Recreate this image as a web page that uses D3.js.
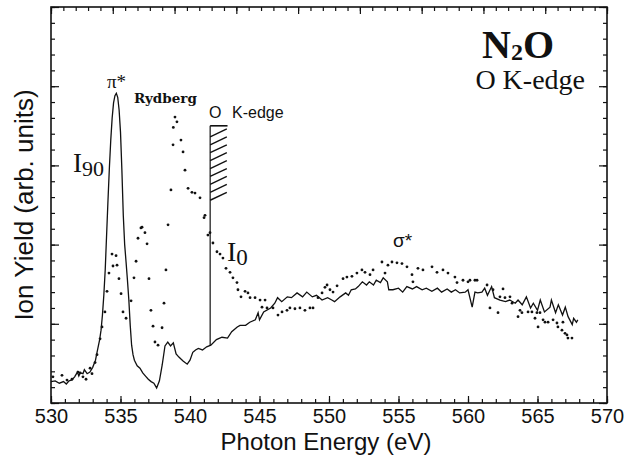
<!DOCTYPE html>
<html lang="en">
<head>
    <meta charset="UTF-8">
    <title>N2O O K-edge ion yield</title>
    <script src="https://d3js.org/d3.v7.min.js"></script>
    <style>
        body { margin: 0; background: #fff; }
        svg { display: block; font-family: "Liberation Sans", Arial, sans-serif; }
        .serif { font-family: "Liberation Serif", "Times New Roman", serif; }
    </style>
</head>
<body>
    <div id="chart"></div>
    <script>
        // I90 spectrum (solid line): [photon energy eV, ion yield arb. units]
        const i90 = [
            [530.0,0.27],[530.3,0.28],[530.6,0.25],[530.9,0.27],[531.1,0.24],[531.3,0.28],[531.5,0.29],[531.7,0.33],
            [531.9,0.39],[532.0,0.34],[532.1,0.38],[532.3,0.37],[532.4,0.42],[532.6,0.37],[532.8,0.39],[533.0,0.45],
            [533.2,0.54],[533.3,0.63],[533.5,0.80],[533.6,0.92],[533.7,1.11],[533.8,1.36],[533.9,1.68],[534.0,2.12],
            [534.1,2.56],[534.2,2.97],[534.3,3.32],[534.4,3.60],[534.5,3.79],[534.6,3.88],[534.7,3.91],[534.8,3.86],
            [534.9,3.70],[535.0,3.42],[535.1,2.94],[535.2,2.37],[535.3,2.00],[535.4,1.78],[535.5,1.55],[535.6,1.30],
            [535.7,0.98],[535.8,0.73],[535.9,0.61],[536.0,0.54],[536.2,0.47],[536.4,0.44],[536.6,0.38],[536.8,0.34],
            [537.0,0.30],[537.2,0.27],[537.4,0.25],[537.6,0.19],[537.8,0.28],[538.0,0.48],[538.2,0.72],[538.4,0.77],
            [538.6,0.72],[538.8,0.76],[539.0,0.62],[539.2,0.58],[539.5,0.53],[539.8,0.49],[540.0,0.54],[540.2,0.64],
            [540.4,0.67],[540.6,0.69],[540.9,0.67],[541.2,0.71],[541.5,0.73],[541.9,0.80],[542.3,0.83],[542.7,0.82],
            [543.0,0.90],[543.4,0.96],[543.6,0.98],[544.0,0.98],[544.3,1.02],[544.7,1.05],[544.9,1.14],[545.0,1.05],
            [545.3,1.15],[545.8,1.20],[546.1,1.26],[546.3,1.33],[546.6,1.28],[547.0,1.34],[547.3,1.33],[547.7,1.39],
            [548.1,1.34],[548.4,1.40],[548.8,1.34],[549.1,1.36],[549.5,1.30],[549.9,1.33],[550.2,1.30],[550.4,1.28],
            [550.8,1.34],[551.2,1.39],[551.4,1.36],[551.6,1.43],[551.9,1.44],[552.1,1.47],[552.4,1.53],[552.7,1.49],
            [552.9,1.53],[553.2,1.49],[553.4,1.55],[553.7,1.52],[553.9,1.58],[554.2,1.53],[554.3,1.43],[554.6,1.43],
            [555.0,1.45],[555.3,1.40],[555.6,1.47],[556.0,1.44],[556.3,1.47],[556.7,1.43],[557.0,1.45],[557.4,1.41],
            [557.8,1.45],[558.1,1.40],[558.5,1.44],[558.8,1.40],[559.1,1.43],[559.4,1.39],[559.8,1.40],[560.0,1.43],
            [560.3,1.21],[560.5,1.40],[560.7,1.39],[561.0,1.40],[561.2,1.45],[561.4,1.36],[561.7,1.47],[561.9,1.33],
            [562.3,1.30],[562.7,1.28],[563.0,1.30],[563.4,1.26],[563.6,1.30],[563.9,1.24],[564.2,1.34],[564.5,1.20],
            [564.7,1.26],[565.0,1.17],[565.2,1.30],[565.5,1.15],[565.9,1.21],[566.0,1.30],[566.3,1.14],[566.5,1.24],
            [566.8,1.11],[567.0,1.21],[567.2,1.09],[567.5,0.99],[567.6,1.07],[567.8,1.02],[567.9,1.05]
        ];

        // I0 spectrum (dots)
        const i0 = [
            [530.14,0.33],[530.79,0.35],[531.15,0.29],[531.51,0.30],[531.94,0.39],[532.09,0.38],[532.30,0.33],[532.52,0.30],
            [532.81,0.44],[532.95,0.37],[533.17,0.51],[533.31,0.61],[533.53,0.81],[533.67,0.96],[533.88,1.15],[534.03,1.41],
            [534.17,1.64],[534.39,1.88],[534.46,1.73],[534.68,1.86],[534.75,1.74],[534.89,1.57],[535.04,1.38],[535.18,1.15],
            [535.40,1.07],[535.76,1.29],[535.97,1.58],[536.12,1.79],[536.26,2.08],[536.47,2.21],[536.55,2.22],[536.76,2.15],
            [536.91,2.01],[537.05,1.57],[537.19,1.17],[537.34,0.97],[537.48,0.77],[537.70,0.73],[537.99,0.95],[538.13,1.26],
            [538.27,1.68],[538.42,2.25],[538.63,2.69],[538.78,3.26],[538.80,3.48],[538.92,3.61],[539.06,3.55],[539.35,3.32],
            [539.50,3.17],[539.64,2.94],[539.86,2.71],[540.14,2.66],[540.36,2.65],[540.72,2.59],[541.01,2.34],[541.08,2.37],
            [541.29,2.12],[541.44,2.15],[541.65,2.02],[541.94,1.91],[542.16,1.88],[542.37,1.83],[542.59,1.70],[542.88,1.65],
            [543.09,1.58],[543.38,1.52],[543.45,1.43],[543.67,1.34],[543.96,1.41],[544.17,1.39],[544.32,1.33],[544.68,1.33],
            [545.04,1.30],[545.18,1.21],[545.40,1.30],[545.54,1.20],[545.97,1.20],[546.33,1.11],[546.62,1.15],[546.98,1.17],
            [547.19,1.20],[547.55,1.19],[547.91,1.20],[548.27,1.17],[548.63,1.20],[548.85,1.20],[549.21,1.33],[549.50,1.39],
            [549.71,1.46],[549.86,1.49],[550.07,1.43],[550.29,1.40],[550.58,1.48],[551.01,1.57],[551.29,1.59],[551.65,1.60],
            [552.01,1.64],[552.37,1.68],[552.59,1.65],[552.95,1.62],[553.17,1.68],[553.81,1.78],[554.03,1.64],[554.24,1.74],
            [554.53,1.78],[554.89,1.77],[555.25,1.76],[555.61,1.72],[555.97,1.62],[556.04,1.53],[556.40,1.70],[556.76,1.68],
            [557.41,1.72],[557.77,1.65],[558.20,1.68],[558.56,1.64],[559.06,1.59],[559.21,1.52],[559.64,1.55],[560.00,1.53],
            [560.14,1.55],[560.50,1.55],[560.65,1.55],[561.37,1.49],[561.58,1.20],[561.80,1.43],[562.16,1.14],[562.30,1.34],
            [562.52,1.44],[562.66,1.33],[563.02,1.34],[563.17,1.26],[563.60,1.09],[563.74,1.17],[563.88,1.14],[564.32,1.15],
            [564.60,1.15],[564.82,1.07],[564.96,1.14],[565.04,0.96],[565.18,1.14],[565.40,1.05],[565.54,1.02],[565.76,1.02],
            [566.12,1.05],[566.40,1.01],[566.47,0.96],[566.76,0.92],[566.83,1.02],[566.98,0.88],[567.12,0.86],[567.19,0.82],
            [567.48,0.82]
        ];

        const xMajor = d3.range(530, 571, 5);
        const xMinor = d3.range(530, 571, 1);
        const yMajor = d3.range(0, 5.01, 1);
        const yMinor = d3.range(0, 5.01, 0.2);

        // O K-edge marker: edge energy, bottom/top of the line, hatch levels
        const edgeEnergy = 541.45;
        const edgeLow = 0.72;
        const edgeTop = 3.50;
        const hatchLevels = d3.range(2.56, 3.40, 0.1);

        const width = 637, height = 457;
        const margin = { left: 51, right: 30, top: 7, bottom: 54 };

        const svg = d3.select("#chart").append("svg")
            .attr("width", width)
            .attr("height", height);

        const x = d3.scaleLinear().domain([530, 570]).range([margin.left, width - margin.right]);
        const y = d3.scaleLinear().domain([0, 5]).range([height - margin.bottom, margin.top]);
        // top axis carries its own finer tick spacing
        const xTop = d3.scaleLinear().domain([0, 45]).range(x.range());

        const plotB = height - margin.bottom, plotR = width - margin.right;

        // axes (ticks inward)
        const tickStyle = g => {
            g.select(".domain").remove();
            g.selectAll("line").attr("stroke", "#111").attr("stroke-width", 1.2);
        };

        svg.append("g").attr("transform", `translate(0,${plotB})`)
            .call(d3.axisBottom(x).tickValues(xMinor).tickSize(-4).tickFormat(""))
            .call(tickStyle);
        svg.append("g").attr("transform", `translate(0,${plotB})`)
            .call(d3.axisBottom(x).tickValues(xMajor).tickSize(-7).tickPadding(6).tickFormat(d3.format("d")))
            .call(tickStyle)
            .call(g => g.selectAll("text").attr("font-size", 20).attr("fill", "#111")
                .attr("font-family", "'Liberation Sans', Arial, sans-serif"));

        svg.append("g").attr("transform", `translate(0,${margin.top})`)
            .call(d3.axisTop(xTop).tickValues(d3.range(0, 46, 1)).tickSize(-4).tickFormat(""))
            .call(tickStyle);
        svg.append("g").attr("transform", `translate(0,${margin.top})`)
            .call(d3.axisTop(xTop).tickValues(d3.range(0, 46, 5)).tickSize(-7).tickFormat(""))
            .call(tickStyle);

        svg.append("g").attr("transform", `translate(${margin.left},0)`)
            .call(d3.axisLeft(y).tickValues(yMinor).tickSize(-4).tickFormat(""))
            .call(tickStyle);
        svg.append("g").attr("transform", `translate(${margin.left},0)`)
            .call(d3.axisLeft(y).tickValues(yMajor).tickSize(-8).tickFormat(""))
            .call(tickStyle);
        svg.append("g").attr("transform", `translate(${plotR},0)`)
            .call(d3.axisRight(y).tickValues(yMinor).tickSize(-4).tickFormat(""))
            .call(tickStyle);
        svg.append("g").attr("transform", `translate(${plotR},0)`)
            .call(d3.axisRight(y).tickValues(yMajor).tickSize(-8).tickFormat(""))
            .call(tickStyle);

        svg.append("rect")
            .attr("x", margin.left).attr("y", margin.top)
            .attr("width", plotR - margin.left).attr("height", plotB - margin.top)
            .attr("fill", "none").attr("stroke", "#111").attr("stroke-width", 1.6);

        // spectra
        const line = d3.line().x(d => x(d[0])).y(d => y(d[1]));

        svg.append("path")
            .datum(i90)
            .attr("d", line)
            .attr("fill", "none")
            .attr("stroke", "#111")
            .attr("stroke-width", 1.3);

        svg.append("g").selectAll("circle")
            .data(i0)
            .enter().append("circle")
            .attr("cx", d => x(d[0]))
            .attr("cy", d => y(d[1]))
            .attr("r", 1.4)
            .attr("fill", "#111");

        // edge marker with hatched box
        const edge = svg.append("g").attr("stroke", "#111").attr("stroke-width", 1.2);
        edge.append("line")
            .attr("x1", x(edgeEnergy)).attr("x2", x(edgeEnergy))
            .attr("y1", y(edgeLow)).attr("y2", y(edgeTop));
        edge.append("line")
            .attr("x1", x(edgeEnergy)).attr("x2", x(edgeEnergy + 1.25))
            .attr("y1", y(edgeTop)).attr("y2", y(edgeTop))
            .attr("stroke-width", 1.6);
        edge.selectAll(".hatch")
            .data(hatchLevels)
            .enter().append("line")
            .attr("x1", x(edgeEnergy)).attr("x2", x(edgeEnergy + 1.2))
            .attr("y1", d => y(d)).attr("y2", d => y(d + 0.1))
            .attr("stroke-width", 1.4);

        // annotations
        const label = (px, py, txt, size, cls, weight) => svg.append("text")
            .attr("x", px).attr("y", py)
            .attr("class", cls || null)
            .attr("font-size", size)
            .attr("font-weight", weight || "normal")
            .attr("fill", "#111")
            .text(txt);

        label(107, 88, "π*", 19, "serif");
        label(134, 103, "Rydberg", 13.5, null, "bold").attr("font-family", "'DejaVu Serif', serif");
        label(209, 118, "O", 16);
        label(232, 118, "K-edge", 16);
        label(393, 247, "σ*", 19);

        const i90Label = label(73, 172, "I", 27, "serif");
        i90Label.append("tspan").attr("font-size", 22).attr("dy", 4).text("90");
        const i0Label = label(227, 261, "I", 28, "serif");
        i0Label.append("tspan").attr("font-size", 23).attr("dy", 4).text("0");

        const title = label(482, 58, "N", 40, "serif", "bold");
        title.append("tspan").attr("font-size", 24).attr("dy", 2).text("2");
        title.append("tspan").attr("dy", -2).text("O");
        label(585, 89, "O K-edge", 28, "serif").attr("text-anchor", "end");

        // axis titles
        svg.append("text")
            .attr("x", 326).attr("y", 450)
            .attr("text-anchor", "middle")
            .attr("font-size", 24)
            .attr("fill", "#111")
            .text("Photon Energy (eV)");

        svg.append("text")
            .attr("transform", "translate(33,205) rotate(-90)")
            .attr("text-anchor", "middle")
            .attr("font-size", 26)
            .attr("fill", "#111")
            .text("Ion Yield (arb. units)");
    </script>
</body>
</html>
